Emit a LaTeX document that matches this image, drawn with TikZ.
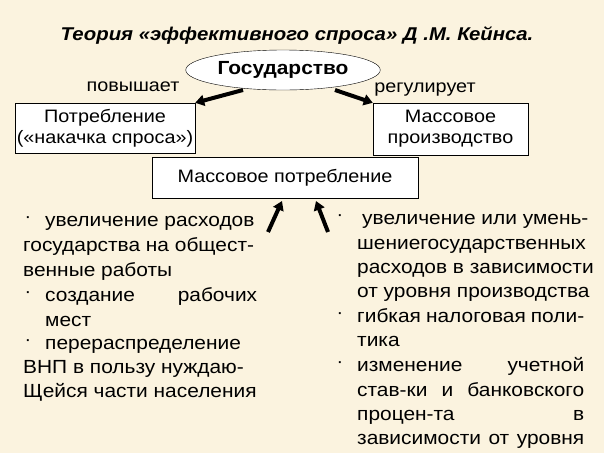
\documentclass[tikz,border=0pt]{standalone}
\usepackage{fontspec}
\setmainfont[FakeStretch=1.1]{Liberation Sans}
\usetikzlibrary{shapes.geometric,arrows.meta}
\definecolor{paper}{HTML}{FBF3DF}
\newcommand{\spreadline}[2]{\makebox[#1pt][l]{#2}}
\tikzset{
	box/.style={draw=black,fill=white,align=center,inner sep=0pt},
	txt/.style={anchor=base west,inner sep=0pt,font=\fontsize{19}{23}\selectfont},
	lbl/.style={inner sep=0pt,font=\fontsize{18}{21}\selectfont},
	fat/.style={-{Triangle[length=9pt,width=11pt]},line width=4pt}
}
\begin{document}
\begin{tikzpicture}[x=1pt,y=-1pt]
				\fill[paper] (0,0) rectangle (604,453);
				\useasboundingbox (0,0) rectangle (604,453);
				
				\node[lbl,font=\fontsize{18.5}{21}\selectfont\bfseries\itshape] (title) at (297,35) {Теория «эффективного спроса» Д .М. Кейнса.};
				
				\node[ellipse,draw,fill=white,minimum width=180,minimum height=40,font=\fontsize{19}{21}\selectfont\bfseries] (gos) at (283,70) {Государство};
				\node[box,minimum width=180,minimum height=50,lbl] (potr) at (105,128) {Потребление\\(«накачка спроса»)};
				\node[box,minimum width=155,minimum height=52,lbl] (proizv) at (450.5,129) {Массовое\\производство};
				\node[box,minimum width=266,minimum height=41,lbl] (massp) at (285,177.5) {Массовое потребление};
				
				\node[lbl] (povysh) at (133,87) {повышает};
				\node[lbl] (regul) at (425,90) {регулирует};
				
				\draw[fat] (243,90) -- (potr.north east);
				\draw[fat] (335,90) -- (proizv.north west);
				\coordinate (la) at (268,232);
				\coordinate (ra) at (328,232);
				\draw[fat] (la) -- (282,201);
				\draw[fat] (ra) -- (316,201);
				
				% left column
				\foreach \yy in {220,295,343}
					\node[lbl] at (28,\yy) {·};
				\node[txt] (l1) at (45,226) {увеличение расходов};
				\node[txt] (l2) at (23,251) {государства на общест-};
				\node[txt] (l3) at (23,276) {венные работы};
				\node[txt] (l4) at (45,301) {\spreadline{212}{создание\hfill рабочих}};
				\node[txt] (l5) at (45,326) {мест};
				\node[txt] (l6) at (45,349) {перераспределение};
				\node[txt] (l7) at (23,373) {ВНП в пользу нуждаю-};
				\node[txt] (l8) at (23,397) {Щейся части населения};
				
				% right column
				\foreach \yy in {218,316,365}
					\node[lbl] at (340,\yy) {·};
				\node[txt] (r1) at (362,224) {увеличение или умень-};
				\node[txt] (r2) at (357,249) {\spreadline{227}{шение\hfill государственных}};
				\node[txt] (r3) at (357,273) {расходов в зависимости};
				\node[txt] (r4) at (357,297) {от уровня производства};
				\node[txt] (r5) at (357,322) {\spreadline{227}{гибкая\hfill налоговая\hfill поли-}};
				\node[txt] (r6) at (357,346) {тика};
				\node[txt] (r7) at (357,371) {\spreadline{227}{изменение\hfill учетной}};
				\node[txt] (r8) at (357,396) {\spreadline{227}{став-ки\hfill и\hfill банковского}};
				\node[txt] (r9) at (357,420) {\spreadline{227}{процен-та\hfill в}};
				\node[txt] (r10) at (357,444) {\spreadline{227}{зависимости\hfill от\hfill уровня}};
\end{tikzpicture}
\end{document}
